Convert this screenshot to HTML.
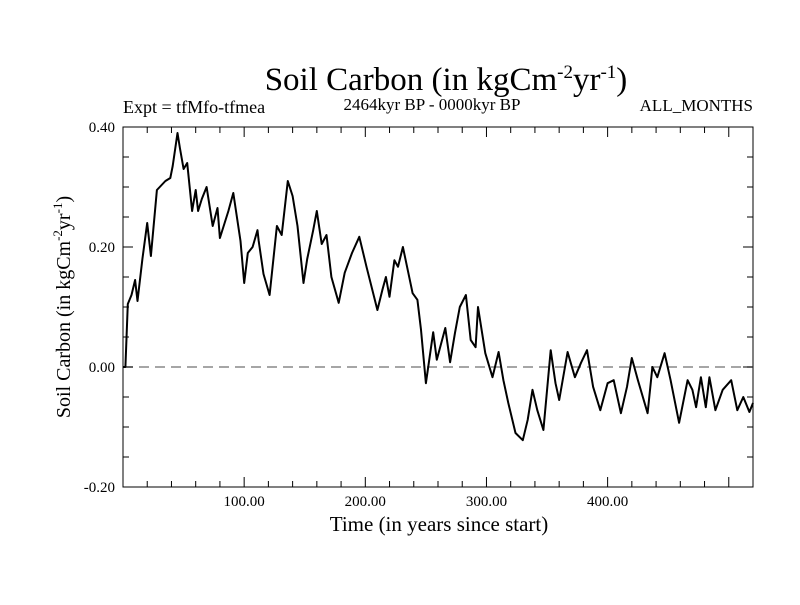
<!DOCTYPE html>
<html><head><meta charset="utf-8"><style>
body{margin:0;background:#fff}
svg text{font-family:"Liberation Serif",serif;fill:#000}
</style></head><body>
<svg width="800" height="600" xmlns="http://www.w3.org/2000/svg">
<text x="446" y="90" font-size="33" text-anchor="middle">Soil Carbon (in kgCm<tspan dy="-12" font-size="19">-2</tspan><tspan dy="12">yr</tspan><tspan dy="-12" font-size="19">-1</tspan><tspan dy="12">)</tspan></text>
<text x="123" y="113" font-size="18">Expt = tfMfo-tfmea</text>
<text x="432" y="110" font-size="17" text-anchor="middle">2464kyr BP - 0000kyr BP</text>
<text x="753" y="111" font-size="17" text-anchor="end">ALL_MONTHS</text>
<g id="axes"></g>
<text x="439" y="531" font-size="21" text-anchor="middle">Time (in years since start)</text>
<text transform="translate(70,307) rotate(-90)" font-size="20" text-anchor="middle">Soil Carbon (in kgCm<tspan dy="-8" font-size="13">-2</tspan><tspan dy="8">yr</tspan><tspan dy="-8" font-size="13">-1</tspan><tspan dy="8">)</tspan></text>
</svg>
<script>
const times=[0,2,4,7,10,12,16,18,20,23,28,35,39,41,45,47,50,53,57,60,62,65,69,74,78,80,87,91,97,100,103,107,111,112,116,121,127,131,136,140,144,149,152,157,160,164,168,172,178,183,189,195,201,210,214,217,220,224,227,231,235,239,243,246,250,256,259,266,270,274,278,283,287,291,293,299,305,310,314,318,324,330,334,338,342,347,353,357,360,367,373,378,383,388,394,400,405,411,416,420,425,433,437,441,447,452,459,466,470,473,477,481,484,489,495,502,507,512,517,520];
const values=[0.0,0.0,0.105,0.12,0.145,0.11,0.18,0.21,0.24,0.185,0.295,0.31,0.315,0.335,0.39,0.365,0.33,0.34,0.26,0.295,0.26,0.28,0.30,0.235,0.265,0.215,0.26,0.29,0.21,0.14,0.19,0.20,0.228,0.21,0.155,0.12,0.235,0.22,0.31,0.285,0.235,0.14,0.18,0.228,0.26,0.205,0.22,0.15,0.107,0.157,0.19,0.217,0.167,0.095,0.128,0.15,0.117,0.178,0.167,0.20,0.162,0.123,0.112,0.062,-0.027,0.058,0.012,0.065,0.008,0.057,0.10,0.12,0.045,0.033,0.10,0.023,-0.017,0.025,-0.022,-0.06,-0.11,-0.122,-0.088,-0.038,-0.072,-0.105,0.028,-0.027,-0.055,0.025,-0.017,0.007,0.028,-0.033,-0.072,-0.027,-0.022,-0.077,-0.033,0.015,-0.022,-0.077,0.0,-0.017,0.023,-0.022,-0.093,-0.022,-0.038,-0.067,-0.017,-0.067,-0.017,-0.072,-0.038,-0.022,-0.072,-0.05,-0.075,-0.06];
const xTicks=[100,200,300,400];
const xTickLabels=["100.00","200.00","300.00","400.00"];
const yTicks=[-0.2,0,0.2,0.4];
const yTickLabels=["-0.20","0.00","0.20","0.40"];
const L=123,R=753,T=127,B=487,X0=0,X1=520,Y0=-0.2,Y1=0.4;
const sx=v=>L+(v-X0)/(X1-X0)*(R-L);
const sy=v=>B-(v-Y0)/(Y1-Y0)*(B-T);
const NS="http://www.w3.org/2000/svg";
const g=document.getElementById('axes');
function mk(t,a){const e=document.createElementNS(NS,t);for(const k in a)e.setAttribute(k,a[k]);g.appendChild(e);return e;}
const frame=mk('rect',{x:L,y:T,width:R-L,height:B-T,fill:'none',stroke:'#000','stroke-width':1});


const zl=mk('line',{x1:L,x2:R,y1:sy(0),y2:sy(0),stroke:'#888','stroke-width':1.5,'stroke-dasharray':'10,6'});


for(let v=20;v<X1;v+=20){
 const maj=v%100===0,len=maj?10:6;
 mk('line',{x1:sx(v),x2:sx(v),y1:B,y2:B-len,stroke:'#000'});
 mk('line',{x1:sx(v),x2:sx(v),y1:T,y2:T+len,stroke:'#000'});
}
for(let i=-4;i<=8;i++){const v=i*0.05;
 const maj=i%4===0,len=maj?10:6;
 mk('line',{x1:L,x2:L+len,y1:sy(v),y2:sy(v),stroke:'#000'});
 mk('line',{x1:R,x2:R-len,y1:sy(v),y2:sy(v),stroke:'#000'});
}
xTicks.forEach((v,i)=>{const t=mk('text',{x:sx(v),y:B+19,'font-size':15,'text-anchor':'middle'});t.textContent=xTickLabels[i];

});
yTicks.forEach((v,i)=>{const t=mk('text',{x:L-8,y:sy(v)+5,'font-size':15,'text-anchor':'end'});t.textContent=yTickLabels[i];

});
const d=times.map((t,i)=>(i?'L':'M')+sx(t).toFixed(1)+','+sy(values[i]).toFixed(1)).join('');
const p=mk('path',{d:d,fill:'none',stroke:'#000','stroke-width':2,'stroke-linejoin':'round'});


</script>
</body></html>
